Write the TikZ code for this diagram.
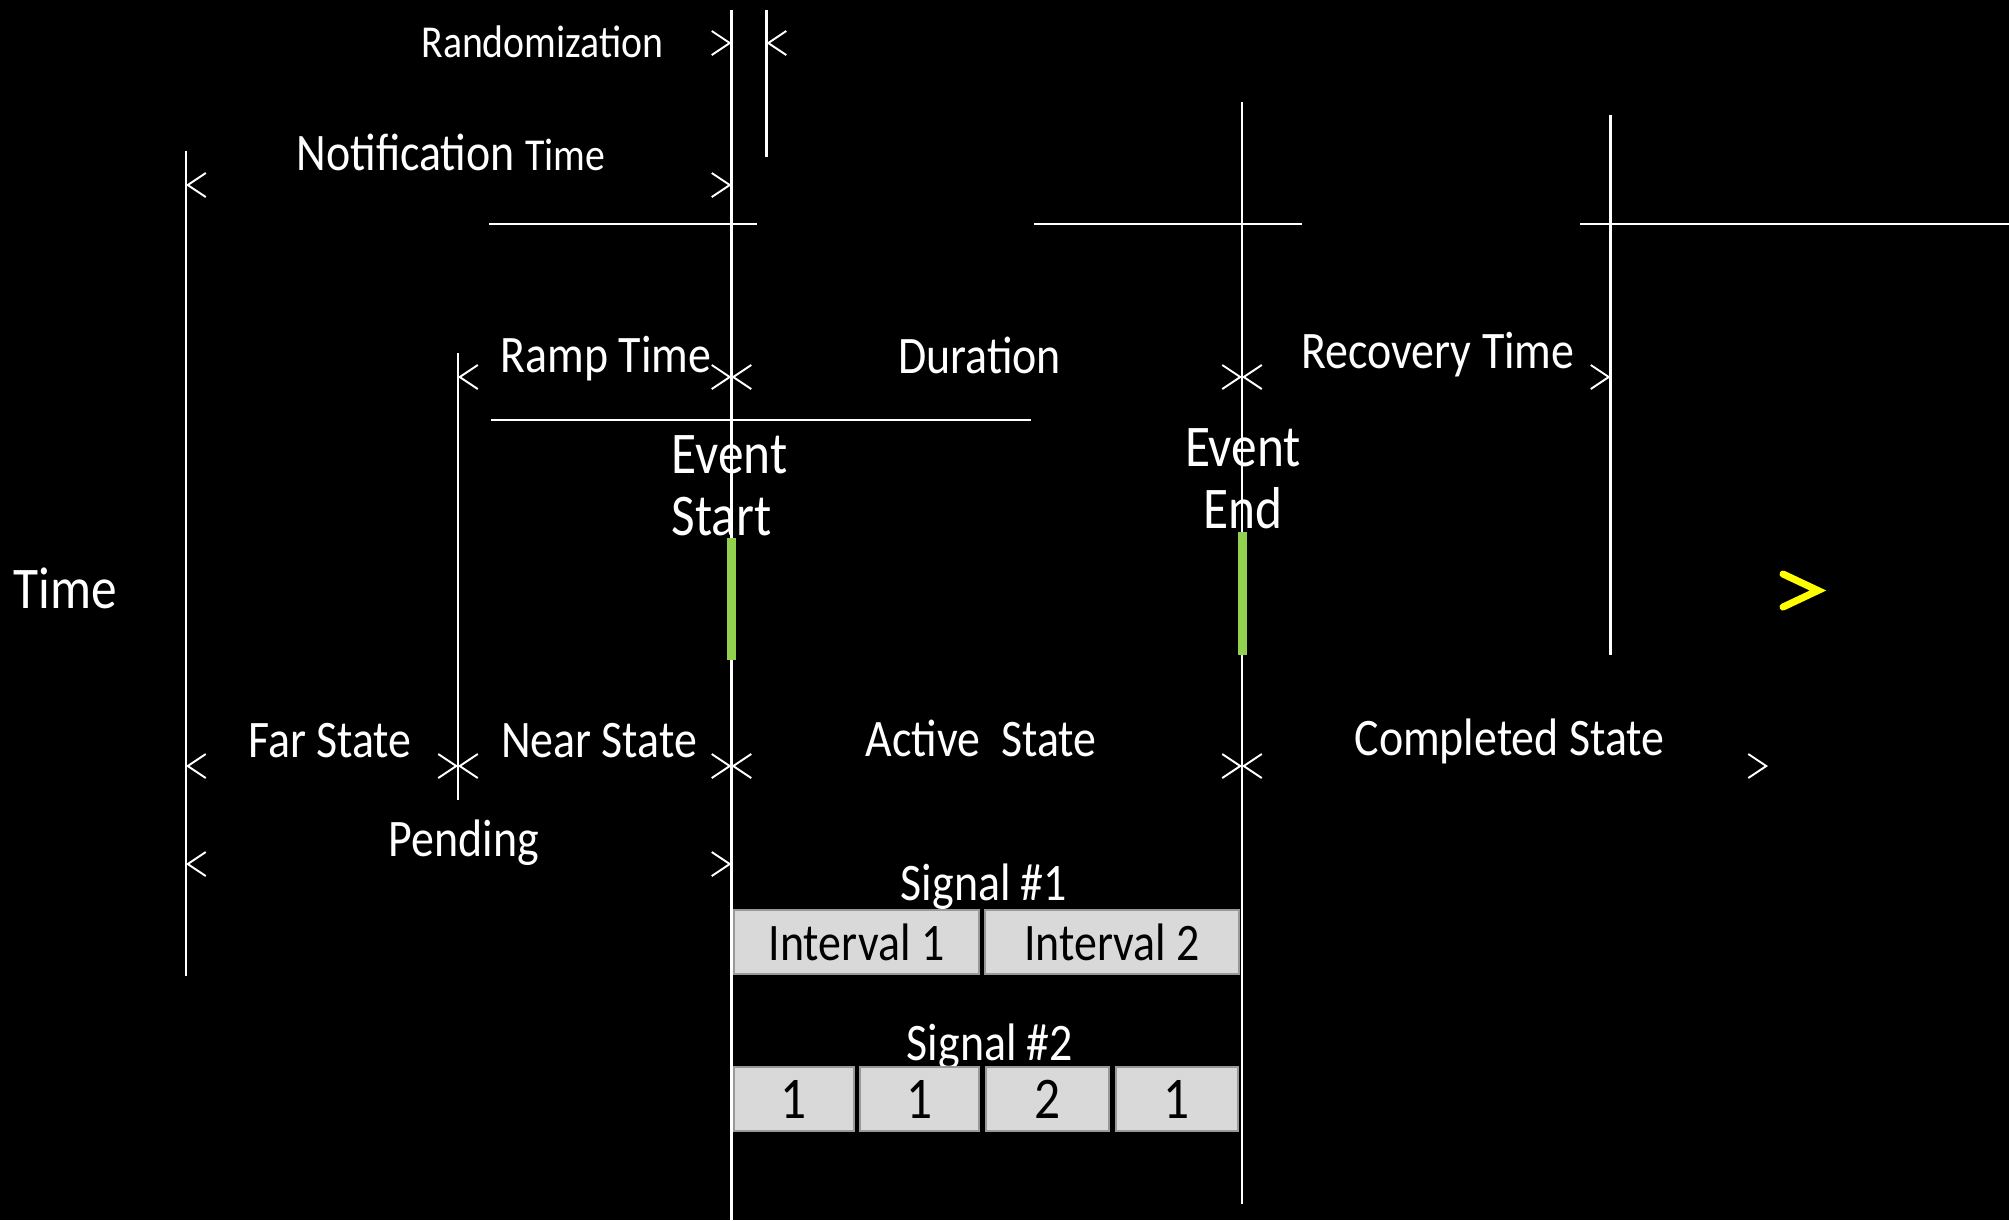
\documentclass[tikz,border=0pt]{standalone}
\usepackage{fontspec}
\setmainfont{Carlito}[FakeStretch=0.87]
\usepackage{tikz}
\usetikzlibrary{arrows.meta}
\definecolor{eventgreen}{HTML}{92D050}
\definecolor{boxgray}{HTML}{D9D9D9}
\definecolor{marker}{HTML}{FFFF00}
\newcommand{\lblfont}{\fontsize{15}{18}\selectfont}
\newcommand{\smlfont}{\fontsize{13}{15}\selectfont}
\newcommand{\bigfont}{\fontsize{16.8}{17.6}\selectfont}

\begin{document}
\begin{tikzpicture}[x=0.01cm, y=-0.01cm,
    vline/.style={white, line width=0.75pt},
    dim/.style={black, line width=0.5pt},
    lbl/.style={white, inner sep=0pt, font=\lblfont},
    sigbox/.style={draw=gray!80, line width=0.4pt, fill=boxgray, text=black,
      inner sep=0pt, minimum height=0.64cm, font=\lblfont},
    >={Straight Barb[color=white, length=0.18cm, width=0.24cm, line width=0.55pt]}]

      % Background and page size
      \fill[black] (0,0) rectangle (2009,1220);
      \useasboundingbox (0,0) rectangle (2009,1220);

      % Ends of the time lines
      \coordinate (tltop) at (186,151);    \coordinate (tlbot) at (186,976);
      \coordinate (nrtop) at (458,353);    \coordinate (nrbot) at (458,800);
      \coordinate (estop) at (731.5,10);   \coordinate (esbot) at (731.5,1220);
      \coordinate (rztop) at (766.5,10);   \coordinate (rzbot) at (766.5,157);
      \coordinate (eetop) at (1242,102);   \coordinate (eebot) at (1242,1204);
      \coordinate (rctop) at (1610.5,115); \coordinate (rcbot) at (1610.5,655);
      \coordinate (csend) at (1768,766);
      \coordinate (rzleft) at (700,43);
      \coordinate (rzright) at (798,43);

      % Rows of the markers
      \coordinate (rzrow) at (0,43);
      \coordinate (ntrow) at (0,185);
      \coordinate (rprow) at (0,377);
      \coordinate (strow) at (0,766);
      \coordinate (pdrow) at (0,864);

      % Span markers
      \draw[dim, ->] (rzleft) -- (estop |- rzrow);
      \draw[dim, ->] (rzright) -- (rztop |- rzrow);
      \draw[dim, <->] (tltop |- ntrow) -- (estop |- ntrow);
      \draw[dim, <->] (nrtop |- rprow) -- (estop |- rprow);
      \draw[dim, <->] (estop |- rprow) -- (eetop |- rprow);
      \draw[dim, <->] (eetop |- rprow) -- (rctop |- rprow);
      \draw[dim, <->] (tltop |- strow) -- (nrtop |- strow);
      \draw[dim, <->] (nrtop |- strow) -- (estop |- strow);
      \draw[dim, <->] (estop |- strow) -- (eetop |- strow);
      \draw[dim, <->] (eetop |- strow) -- (csend);
      \draw[dim, <->] (tltop |- pdrow) -- (estop |- pdrow);

      % Draw the time lines
      \draw[vline] (tltop) -- (tlbot);
      \draw[vline] (nrtop) -- (nrbot);
      \draw[vline] (estop) -- (esbot);
      \draw[vline] (rztop) -- (rzbot);
      \draw[vline] (eetop) -- (eebot);
      \draw[vline] (rctop) -- (rcbot);

      % Horizontal rules
      \draw[vline] (489,224) -- (757,224);
      \draw[vline] (1034,224) -- (1302,224);
      \draw[vline] (1580,224) -- (2009,224);
      \draw[vline] (491,420) -- (1031,420);

      % Event marks
      \fill[eventgreen] (727,538) rectangle (736,660);
      \fill[eventgreen] (1237.5,532) rectangle (1246.5,655);

      % Labels
      \node[lbl, font=\smlfont, anchor=base] (rand) at (542.5,57) {Randomization};
      \node[lbl, anchor=base west] (notif) at (296,170) {Notification {\smlfont Time}};
      \node[lbl, anchor=base] (ramp) at (606,372) {Ramp Time};
      \node[lbl, anchor=base] (dur) at (979.5,373) {Duration};
      \node[lbl, anchor=base] (recov) at (1438,368) {Recovery Time};
      \node[lbl, font=\bigfont, align=left, anchor=base west] (evstart) at (671,535) {Event\\Start};
      \node[lbl, font=\bigfont, align=center, anchor=base] (evend) at (1243,528) {Event\\End};
      \node[lbl, font=\bigfont, anchor=base west] (time) at (13,608) {Time};
      \node[lbl, anchor=base] (far) at (330,757) {Far State};
      \node[lbl, anchor=base] (near) at (599,757) {Near State};
      \node[lbl, anchor=base] (active) at (981,756) {Active\ \ State};
      \node[lbl, anchor=base] (done) at (1509.5,755) {Completed State};
      \node[lbl, anchor=base] (pend) at (464,856) {Pending};

      % Signals
      \node[lbl, anchor=base] (sig1) at (984,900) {Signal \#1};
      \node[sigbox, minimum width=2.45cm] (int1) at (856.5,942) {Interval 1};
      \node[sigbox, minimum width=2.54cm] (int2) at (1112,942) {Interval 2};
      \node[lbl, anchor=base] (sig2) at (990,1060) {Signal \#2};
      \node[sigbox, minimum width=1.20cm, font=\bigfont] (s2a) at (794,1099) {1};
      \node[sigbox, minimum width=1.19cm, font=\bigfont] (s2b) at (919.5,1099) {1};
      \node[sigbox, minimum width=1.23cm, font=\bigfont] (s2c) at (1047.5,1099) {2};
      \node[sigbox, minimum width=1.22cm, font=\bigfont] (s2d) at (1177,1099) {1};

      % Next arrow
      \draw[marker, line width=2pt, line cap=round] (1783,574) -- (1818,590.5) -- (1783,607);
    \end{tikzpicture}
\end{document}
